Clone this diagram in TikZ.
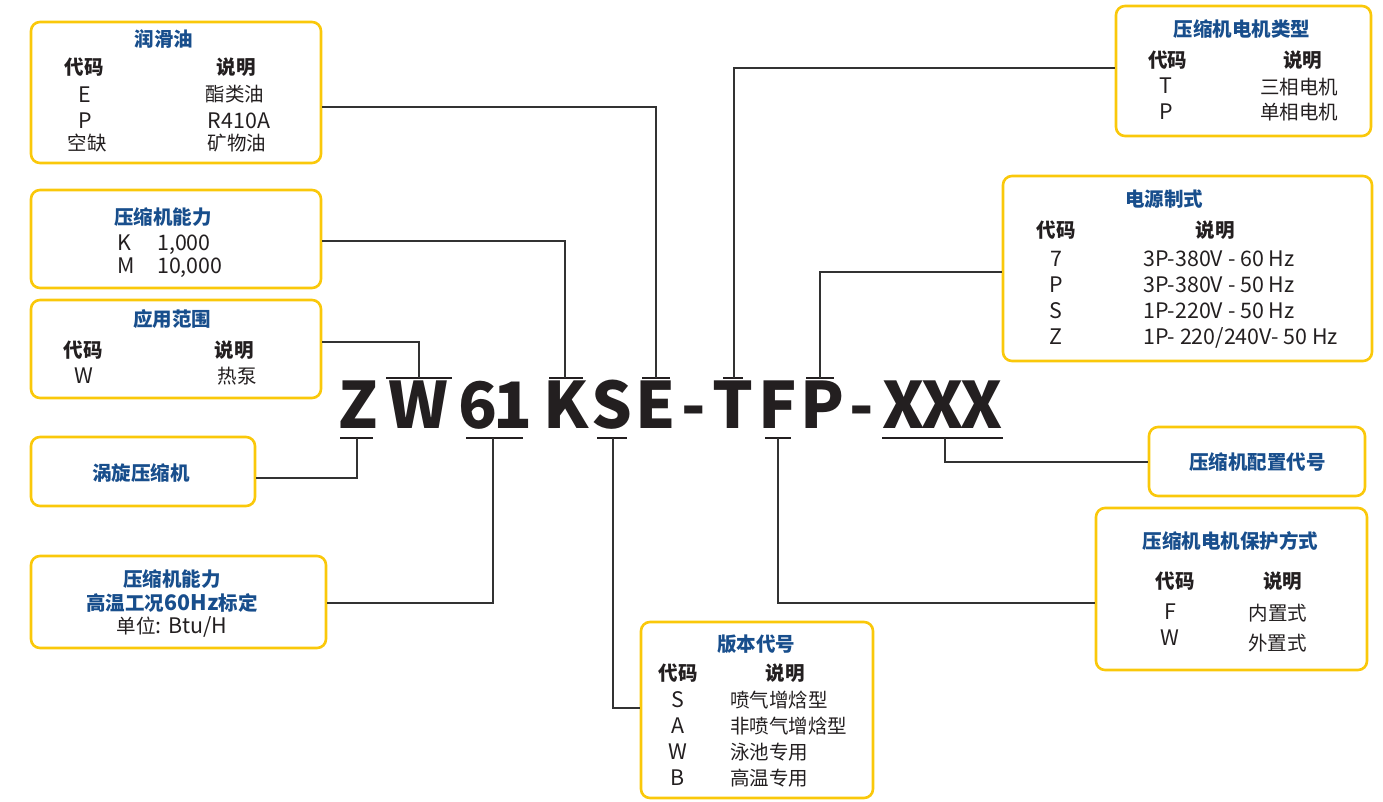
\documentclass[tikz,border=0pt]{standalone}
\usepackage{fontspec}
\setmainfont{Noto Sans CJK SC}
\definecolor{yel}{RGB}{250,200,10}
\definecolor{navy}{RGB}{24,78,140}
\definecolor{ink}{RGB}{35,31,32}
\definecolor{wire}{RGB}{50,50,50}
\newcommand\zhsz{\fontsize{19.5}{22}\selectfont}
\newcommand\la[1]{{\fontsize{21.4}{24}\selectfont #1}}
\newcommand\codesz{\fontsize{64}{70}\selectfont}
\begin{document}
\begin{tikzpicture}[x=1pt,y=-1pt,
  box/.style={draw=yel, line width=2.6pt, rounded corners=9pt, inner sep=0pt},
  ttl/.style={font=\zhsz\bfseries, text=navy, anchor=base, inner sep=0pt},
  tx/.style={font=\zhsz, text=ink, anchor=base, inner sep=0pt},
  txw/.style={tx, anchor=base west},
  cch/.style={font=\codesz\bfseries, text=ink, anchor=base, inner sep=0pt},
  conn/.style={draw=wire, line width=1.5pt},
  barl/.style={draw=ink, line width=2pt},
  barx/.style={draw=ink, line width=2.8pt}]
\useasboundingbox (0,0) rectangle (1383,801);

% ---------- boxes ----------
\node[box, minimum width=290pt, minimum height=141pt] (b1) at (176,92.5) {};
\node[box, minimum width=290pt, minimum height=98pt] (b2) at (176,239) {};
\node[box, minimum width=290pt, minimum height=98pt] (b3) at (176,349) {};
\node[box, minimum width=224pt, minimum height=69pt] (b4) at (143,471.5) {};
\node[box, minimum width=295pt, minimum height=92pt] (b5) at (178.5,602) {};
\node[box, minimum width=232pt, minimum height=176pt] (b6) at (757,710) {};
\node[box, minimum width=255pt, minimum height=130pt] (b7) at (1243.5,71) {};
\node[box, minimum width=369pt, minimum height=185pt] (b8) at (1187.5,268.5) {};
\node[box, minimum width=216pt, minimum height=69pt] (b9) at (1257,461.5) {};
\node[box, minimum width=271pt, minimum height=162pt] (b10) at (1231.5,589) {};

% ---------- box 1: 润滑油 ----------
\node[ttl] (t1) at (164,46.5) {润滑油};
\node[tx] (h1a) at (84,74.5) {\bfseries 代码};
\node[tx] (h1b) at (236,74.5) {\bfseries 说明};
\node[tx] (c1a) at (85,102) {\la{E}};
\node[tx] (d1a) at (235,101.5) {酯类油};
\node[tx] (c1b) at (85,128) {\la{P}};
\node[tx] (d1b) at (239,128) {\la{R410A}};
\node[tx] (c1c) at (87,150.5) {空缺};
\node[tx] (d1c) at (237,150.5) {矿物油};

% ---------- box 2: 压缩机能力 ----------
\node[ttl] (t2) at (163,224.5) {压缩机能力};
\node[txw] (c2a) at (117,250) {\la{K}};
\node[txw] (d2a) at (157,250) {\la{1,000}};
\node[txw] (c2b) at (117,273) {\la{M}};
\node[txw] (d2b) at (157,273) {\la{10,000}};

% ---------- box 3: 应用范围 ----------
\node[ttl] (t3) at (172,326.5) {应用范围};
\node[tx] (h3a) at (83,357.5) {\bfseries 代码};
\node[tx] (h3b) at (234,357.5) {\bfseries 说明};
\node[tx] (c3a) at (84,383) {\la{W}};
\node[tx] (d3a) at (237,383.5) {热泵};

% ---------- box 4 ----------
\node[ttl] (t4) at (141,480.5) {涡旋压缩机};

% ---------- box 5 ----------
\node[ttl] (t5a) at (172,586.5) {压缩机能力};
\node[ttl] (t5b) at (172,610.5) {高温工况\la{60Hz}标定};
\node[tx] (t5c) at (172,633.5) {单位\la{: Btu/H}};

% ---------- box 6: 版本代号 ----------
\node[ttl] (t6) at (756,651.5) {版本代号};
\node[tx] (h6a) at (678,680.5) {\bfseries 代码};
\node[tx] (h6b) at (785,680.5) {\bfseries 说明};
\node[tx] (c6a) at (678,707) {\la{S}};
\node[txw] (d6a) at (730,707) {喷气增焓型};
\node[tx] (c6b) at (678,733) {\la{A}};
\node[txw] (d6b) at (730,733) {非喷气增焓型};
\node[tx] (c6c) at (678,759) {\la{W}};
\node[txw] (d6c) at (730,759) {泳池专用};
\node[tx] (c6d) at (678,785) {\la{B}};
\node[txw] (d6d) at (730,785) {高温专用};

% ---------- box 7: 压缩机电机类型 ----------
\node[ttl] (t7) at (1242,36.5) {压缩机电机类型};
\node[tx] (h7a) at (1167.5,67) {\bfseries 代码};
\node[tx] (h7b) at (1302.5,67) {\bfseries 说明};
\node[tx] (c7a) at (1166,93) {\la{T}};
\node[tx] (d7a) at (1299,94) {三相电机};
\node[tx] (c7b) at (1166,119) {\la{P}};
\node[tx] (d7b) at (1299,119.5) {单相电机};

% ---------- box 8: 电源制式 ----------
\node[ttl] (t8) at (1164,206.5) {电源制式};
\node[tx] (h8a) at (1056,237.5) {\bfseries 代码};
\node[tx] (h8b) at (1215,237.5) {\bfseries 说明};
\node[tx] (c8a) at (1056,266.5) {\la{7}};
\node[txw] (d8a) at (1143,266.5) {\la{3P-380V - 60 Hz}};
\node[tx] (c8b) at (1056,292.5) {\la{P}};
\node[txw] (d8b) at (1143,292.5) {\la{3P-380V - 50 Hz}};
\node[tx] (c8c) at (1056,318.5) {\la{S}};
\node[txw] (d8c) at (1143,318.5) {\la{1P-220V - 50 Hz}};
\node[tx] (c8d) at (1056,344.5) {\la{Z}};
\node[txw] (d8d) at (1143,344.5) {\la{1P- 220/240V- 50 Hz}};

% ---------- box 9 ----------
\node[ttl] (t9) at (1257.5,469) {压缩机配置代号};

% ---------- box 10 ----------
\node[ttl] (t10) at (1230.5,548.5) {压缩机电机保护方式};
\node[tx] (h10a) at (1175,588.5) {\bfseries 代码};
\node[tx] (h10b) at (1282.5,588.5) {\bfseries 说明};
\node[tx] (c10a) at (1170.5,619) {\la{F}};
\node[tx] (d10a) at (1278,620) {内置式};
\node[tx] (c10b) at (1170,645) {\la{W}};
\node[tx] (d10b) at (1277.5,650) {外置式};

% ---------- model code ----------
\node[cch] (kZ) at (358,428) {Z};
\node[cch] (kW) at (418,428) {W};
\node[cch] (k6) at (478,428) {6};
\node[cch] (k1) at (513,428) {1};
\node[cch] (kK) at (566,428) {K};
\node[cch] (kS) at (612,428) {S};
\node[cch] (kE) at (656,428) {E};
\node[cch] (kd1) at (694,428) {-};
\node[cch] (kT) at (733,428) {T};
\node[cch] (kF) at (778,428) {F};
\node[cch] (kP) at (822,428) {P};
\node[cch] (kd2) at (862,428) {-};
\node[cch] (kX1) at (904,428) {X};
\node[cch] (kX2) at (943,428) {X};
\node[cch] (kX3) at (982,428) {X};

% bars over / under the code letters
\draw[barl] (386,378) -- (452,378);
\draw[barl] (549,378) -- (583,378);
\draw[barl] (642,378) -- (670,378);
\draw[barl] (723,378) -- (743,378);
\draw[barl] (806,378) -- (834,378);
\draw[barl] (340,438) -- (373,438);
\draw[barl] (466,438) -- (523,438);
\draw[barl] (597,438) -- (627,438);
\draw[barl] (765,438) -- (791,438);
\draw[barx] (882,438) -- (1003,438);

\coordinate (pW) at (419,378);
\coordinate (pK) at (565,378);
\coordinate (pE) at (656,378);
\coordinate (pT) at (734,378);
\coordinate (pP) at (820,378);
\coordinate (pZ) at (357,438);
\coordinate (p61) at (493,438);
\coordinate (pS) at (613,438);
\coordinate (pF) at (778,438);
\coordinate (pX) at (945,438);

\coordinate (jE) at (656,107);
\coordinate (jK) at (565,241);
\coordinate (jW) at (419,342);
\coordinate (jZ) at (357,478);
\coordinate (j61) at (493,603);
\coordinate (jS) at (613,708);
\coordinate (jT) at (734,68);
\coordinate (jP) at (820,272);
\coordinate (jX) at (945,462);
\coordinate (jF) at (778,603);

% connectors
\draw[conn] (b1.east |- jE) -- (jE) -- (pE);
\draw[conn] (b2.east |- jK) -- (jK) -- (pK);
\draw[conn] (b3.east |- jW) -- (jW) -- (pW);
\draw[conn] (b4.east |- jZ) -- (jZ) -- (pZ);
\draw[conn] (b5.east |- j61) -- (j61) -- (p61);
\draw[conn] (b6.west |- jS) -- (jS) -- (pS);
\draw[conn] (b7.west |- jT) -- (jT) -- (pT);
\draw[conn] (b8.west |- jP) -- (jP) -- (pP);
\draw[conn] (b9.west |- jX) -- (jX) -- (pX);
\draw[conn] (b10.west |- jF) -- (jF) -- (pF);
\end{tikzpicture}
\end{document}
